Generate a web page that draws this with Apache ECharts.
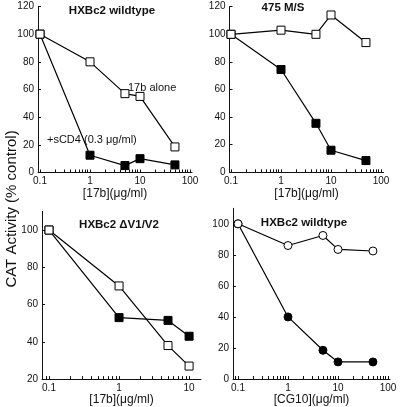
<!DOCTYPE html>
<html>
<head>
<meta charset="utf-8">
<script src="https://cdn.jsdelivr.net/npm/echarts@6/dist/echarts.min.js"></script>
<style>html,body{margin:0;padding:0;background:#fff}#c{width:400px;height:407px}</style>
</head>
<body>
<div id="c"></div>
<script>
// ---- data ----
const conc5 = [0.1, 1, 5, 10, 50];
const conc4 = [0.1, 1, 5, 10];
const p1Alone = [100, 80, 57, 55, 18.5];
const p1SCD4 = [100, 12.5, 5, 10, 5.5];
const p2Open = [100, 103, 100, 114, 94];
const p2Filled = [100, 74.5, 35.5, 16, 8.5];
const p3Open = [100, 70, 38, 27];
const p3Filled = [100, 53, 51.5, 43];
const p4Open = [100, 86, 92.5, 83.5, 82.5];
const p4Filled = [100, 40, 18.5, 11, 11];
const xTickValues = [0.1, 1, 10, 100];
const xTickLabels = ['0.1', '1', '10', '100'];
const yTicks1 = [0, 20, 40, 60, 80, 100, 120];
const yTicks3 = [20, 40, 60, 80, 100];
const yTicks4 = [0, 20, 40, 60, 80, 100];

const FONT = '"Liberation Sans", Arial, Helvetica, sans-serif';
const lg = v => Math.log10(v);
const pts = (xs, ys) => xs.map((x, i) => [lg(x), ys[i]]);
// minor log tick positions
function logTicks(minL, maxL) {
  const out = [];
  for (let d = -2; d <= 2; d++) {
    for (let m = 1; m <= 9; m++) {
      const v = Math.log10(m) + d;
      if (v >= minL - 1e-9 && v <= maxL + 1e-9) out.push(v);
    }
  }
  return out;
}
function xAxisDef(gi, minL, maxL, name) {
  return {
    type: 'value', gridIndex: gi, min: minL, max: maxL,
    axisLine: { onZero: false, lineStyle: { color: '#111', width: 1 } },
    axisTick: { inside: true, length: 3, customValues: logTicks(minL, maxL), lineStyle: { color: '#111' } },
    axisLabel: {
      customValues: xTickValues.map(lg).filter(v => v >= minL - 1e-9 && v <= maxL + 1e-9),
      formatter: v => { const i = xTickValues.findIndex(t => Math.abs(lg(t) - v) < 1e-6); return i >= 0 ? xTickLabels[i] : ''; },
      color: '#111', fontSize: 10, fontFamily: FONT, margin: 4
    },
    splitLine: { show: false },
    name: name, nameLocation: 'middle', nameGap: 12,
    nameTextStyle: { color: '#111', fontSize: 12, fontFamily: FONT }
  };
}
function yAxisDef(gi, mn, mx, ticks) {
  return {
    type: 'value', gridIndex: gi, min: mn, max: mx,
    axisLine: { show: true, onZero: false, lineStyle: { color: '#111', width: 1 } },
    axisTick: { show: true, inside: true, length: 3, customValues: ticks, lineStyle: { color: '#111' } },
    axisLabel: { customValues: ticks, color: '#111', fontSize: 10, fontFamily: FONT, margin: 4 },
    splitLine: { show: false }
  };
}
function ser(gi, data, symbol, filled) {
  return {
    type: 'line', xAxisIndex: gi, yAxisIndex: gi, data: data,
    symbol: symbol, symbolSize: symbol === 'rect' ? 8 : 8, showAllSymbol: true,
    lineStyle: { color: '#000', width: 1.2 },
    itemStyle: { color: filled ? '#000' : '#fff', borderColor: '#000', borderWidth: 1 },
    emphasis: { disabled: true }, animation: false, clip: false
  };
}
function txt(x, y, s, opts) {
  return { type: 'text', x: x, y: y, style: Object.assign({ text: s, fill: '#111', fontFamily: FONT, fontSize: 11, textAlign: 'center', textVerticalAlign: 'middle' }, opts || {}) };
}

const chart = echarts.init(document.getElementById('c'), null, { renderer: 'canvas' });
chart.setOption({
  animation: false,
  backgroundColor: '#fff',
  grid: [
    { left: 38, top: 6.5, width: 154, height: 166 },
    { left: 229.5, top: 6.7, width: 154, height: 165.6 },
    { left: 42, top: 211.4, width: 159, height: 168.6 },
    { left: 233, top: 208.3, width: 157, height: 170.7 }
  ],
  xAxis: [
    xAxisDef(0, -1.04, 2.04, '[17b](μg/ml)'),
    xAxisDef(1, -1.03, 2.05, '[17b](μg/ml)'),
    xAxisDef(2, -1.1, 1.17, '[17b](μg/ml)'),
    xAxisDef(3, -1.1, 2.04, '[CG10](μg/ml)')
  ],
  yAxis: [
    yAxisDef(0, 0, 120, yTicks1),
    yAxisDef(1, 0, 120, yTicks1),
    yAxisDef(2, 20, 110, yTicks3),
    yAxisDef(3, 0, 110, yTicks4)
  ],
  series: [
    ser(0, pts(conc5, p1SCD4), 'rect', true),
    ser(0, pts(conc5, p1Alone), 'rect', false),
    ser(1, pts(conc5, p2Filled), 'rect', true),
    ser(1, pts(conc5, p2Open), 'rect', false),
    ser(2, pts(conc4, p3Filled), 'rect', true),
    ser(2, pts(conc4, p3Open), 'rect', false),
    ser(3, pts(conc5, p4Filled), 'circle', true),
    ser(3, pts(conc5, p4Open), 'circle', false)
  ],
  graphic: [
    txt(112, 11, 'HXBc2 wildtype', { fontWeight: 'bold', fontSize: 11.5 }),
    txt(283, 8, '475 M/S', { fontWeight: 'bold', fontSize: 11.5 }),
    txt(119, 225, 'HXBc2 ΔV1/V2', { fontWeight: 'bold', fontSize: 11.5 }),
    txt(304, 223, 'HXBc2 wildtype', { fontWeight: 'bold', fontSize: 11.5 }),
    txt(128, 88, '17b alone', { textAlign: 'left', fontSize: 11 }),
    txt(47, 140, '+sCD4 (0.3 μg/ml)', { textAlign: 'left', fontSize: 11 }),
    { type: 'text', x: 12, y: 209, rotation: Math.PI / 2,
      style: { text: 'CAT Activity (% control)', fill: '#111', fontFamily: FONT, fontSize: 15, textAlign: 'center', textVerticalAlign: 'middle' } }
  ]
});
</script>
</body>
</html>
